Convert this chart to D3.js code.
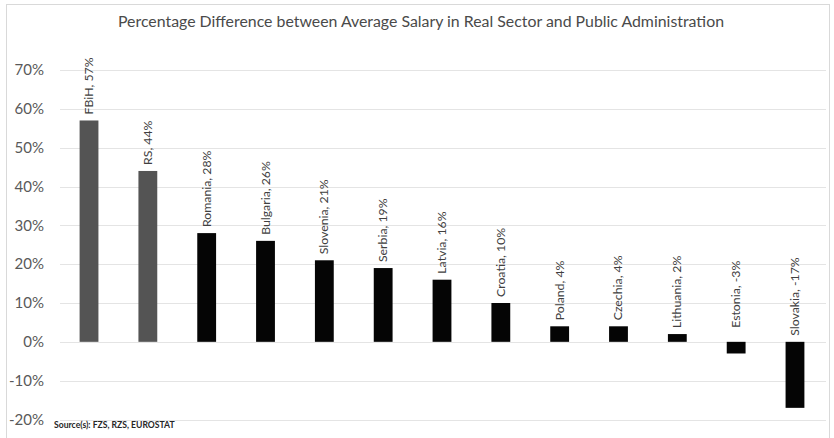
<!DOCTYPE html>
<html>
<head>
<meta charset="utf-8">
<script src="https://cdn.jsdelivr.net/npm/d3@7"></script>
<style>
  html, body { margin: 0; padding: 0; background: #fff; }
  svg { display: block; font-family: Lato, "Open Sans", sans-serif; }
</style>
</head>
<body>
<svg id="chart" width="834" height="438"></svg>
<script>
// Salary gap between real sector and public administration, by country / entity
const countries = ["FBiH", "RS", "Romania", "Bulgaria", "Slovenia", "Serbia", "Latvia",
                   "Croatia", "Poland", "Czechia", "Lithuania", "Estonia", "Slovakia"];
const differences = [57, 44, 28, 26, 21, 19, 16, 10, 4, 4, 2, -3, -17];
const highlighted = ["FBiH", "RS"];
const yTicks = [-20, -10, 0, 10, 20, 30, 40, 50, 60, 70];
const titleText = "Percentage Difference between Average Salary in Real Sector and Public Administration";
const sourceText = "Source(s): FZS, RZS, EUROSTAT";

const svg = d3.select("#chart");

// outer frame
svg.append("rect")
  .attr("x", 6.5).attr("y", 4.5)
  .attr("width", 823).attr("height", 440)
  .attr("fill", "none").attr("stroke", "#d9d9d9").attr("stroke-width", 1);

const plot = { left: 59.6, right: 824.4 };

const x = d3.scaleBand()
  .domain(countries)
  .range([plot.left, plot.right])
  .paddingInner(0.68)
  .paddingOuter(0.34);

const y = d3.scaleLinear()
  .domain([-20, 70])
  .range([419.5, 70]);

// horizontal gridlines
svg.append("g")
  .selectAll("line")
  .data(yTicks)
  .join("line")
  .attr("x1", 60).attr("x2", 826)
  .attr("y1", d => Math.round(y(d)) + 0.5)
  .attr("y2", d => Math.round(y(d)) + 0.5)
  .attr("stroke", "#e4e4e4").attr("stroke-width", 1);

// y axis labels
const yAxis = d3.axisLeft(y).tickValues(yTicks).tickFormat(d => d + "%").tickSize(0).tickPadding(0);
const gy = svg.append("g").attr("transform", "translate(44,0)").call(yAxis);
gy.select(".domain").remove();
gy.selectAll("text")
  .attr("fill", "#595959")
  .style("font-size", "15px")
  .style("font-family", "Lato, sans-serif");

// bars
svg.append("g")
  .selectAll("rect")
  .data(countries)
  .join("rect")
  .attr("x", (d) => x(d))
  .attr("width", x.bandwidth())
  .attr("y", (d, i) => y(Math.max(0, differences[i])))
  .attr("height", (d, i) => Math.abs(y(differences[i]) - y(0)))
  .attr("fill", d => highlighted.includes(d) ? "#545454" : "#050505");

// rotated value labels above each bar (or above the zero line for negatives)
svg.append("g")
  .selectAll("text")
  .data(countries)
  .join("text")
  .attr("transform", (d, i) => {
    const cx = x(d) + x.bandwidth() / 2 + 4;
    const by = y(Math.max(0, differences[i])) - (differences[i] < 0 && differences[i] > -10 ? 14 : 6);
    return `translate(${cx},${by}) rotate(-90)`;
  })
  .attr("text-anchor", "start")
  .attr("fill", "#404040")
  .style("font-size", "12.3px")
  .text((d, i) => `${d}, ${differences[i]}%`);

// title
svg.append("text")
  .attr("x", 421).attr("y", 27)
  .attr("text-anchor", "middle")
  .attr("fill", "#4a4a4a")
  .style("font-size", "15.5px")
  .attr("textLength", 606)
  .attr("lengthAdjust", "spacingAndGlyphs")
  .text(titleText);

// source note
svg.append("text")
  .attr("x", 54).attr("y", 428)
  .attr("fill", "#262626")
  .style("font-size", "8.6px")
  .style("font-weight", "bold")
  .text(sourceText);
</script>
</body>
</html>
